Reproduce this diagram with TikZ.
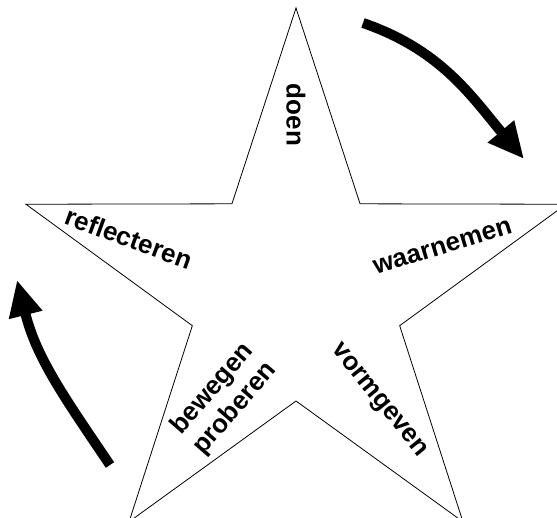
\documentclass[tikz,border=0pt]{standalone}
\usepackage{fontspec}
\setmainfont{Liberation Sans}
\usepackage{tikz}
\usetikzlibrary{arrows.meta,calc,positioning}

\begin{document}
\begin{tikzpicture}[x=1pt,y=1pt,
  lbl/.style={font=\bfseries\fontsize{26}{30}\selectfont,inner sep=0pt,align=center},
  flow/.style={line width=10pt,-{Triangle[length=36pt,width=32pt]}}]
\clip (0,0) rectangle (557,517);
\begin{scope}[shift={(296,225)}]
\draw[line width=0.8pt,line join=miter] (90:284) -- (126:109) -- (162:284) -- (198:109) -- (234:284)
  -- (270:109) -- (306:284) -- (342:109) -- (18:284) -- (54:109) -- cycle;
\end{scope}
\node[lbl,rotate=-90] (doen) at (296,402) {doen};
\node[lbl,rotate=-20] (reflecteren) at (129,279) {reflecteren};
\node[lbl,rotate=17] (waarnemen) at (443,270) {waarnemen};
\node[lbl,rotate=-51] (vormgeven) at (378,116) {vormgeven};
\node[lbl,rotate=49] (bewegen) at (224,118) {bewegen\\proberen};
% arrows round the star
\coordinate (r-start) at (363,494);
\coordinate (r-end) at (524,358);
\coordinate (l-start) at (110,52);
\coordinate (l-end) at (17,237);
\draw[flow] (r-start) to[out=-19,in=130] (r-end);
\draw[flow] (l-start) to[out=124,in=-76] (l-end);
\end{tikzpicture}
\end{document}
